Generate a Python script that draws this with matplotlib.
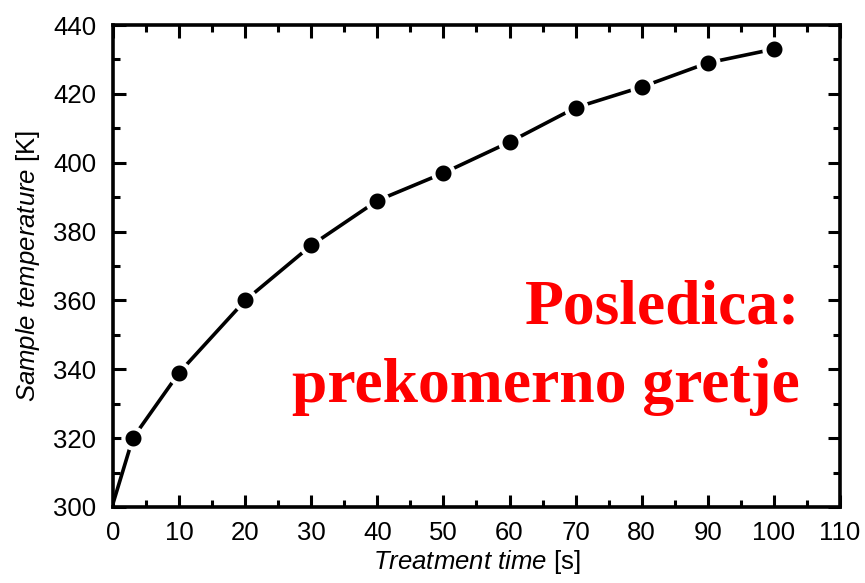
import numpy as np
import matplotlib.pyplot as plt
from matplotlib.ticker import MultipleLocator

plt.rcParams['font.family'] = 'Liberation Sans'
plt.rcParams['mathtext.fontset'] = 'custom'
plt.rcParams['mathtext.it'] = 'Liberation Sans:italic'
plt.rcParams['mathtext.rm'] = 'Liberation Sans'

# treatment time [s] and sample temperature [K]
time_s = [0, 3, 10, 20, 30, 40, 50, 60, 70, 80, 90, 100]
temp_k = [301, 320, 339, 360, 376, 389, 397, 406, 416, 422, 429, 433]

fig = plt.figure(figsize=(8.65, 5.83), dpi=100)
ax = fig.add_axes([113/865, 1-507/583, 727/865, 482/583])

ax.plot(time_s, temp_k, color='black', lw=2.6, marker='o', ms=14.5,
        mfc='black', mec='white', mew=3, markevery=slice(1, None), zorder=3)

ax.set_xlim(0, 110)
ax.set_ylim(300, 440)
ax.xaxis.set_major_locator(MultipleLocator(10))
ax.xaxis.set_minor_locator(MultipleLocator(5))
ax.yaxis.set_major_locator(MultipleLocator(20))
ax.yaxis.set_minor_locator(MultipleLocator(10))

for s in ax.spines.values():
    s.set_linewidth(2.6)
ax.tick_params(which='both', direction='in', top=True, right=True, width=2.2)
ax.tick_params(which='major', length=9, labelsize=18.5)
ax.tick_params(which='minor', length=5)
ax.tick_params(axis='x', pad=10)
ax.tick_params(axis='y', pad=12)

ax.set_xlabel(r'$\it{Treatment\ time}$ [s]', fontsize=18.5, labelpad=2)
ax.set_ylabel(r'$\it{Sample\ temperature}$ [K]', fontsize=18.5, labelpad=8)

fig.text(800/865, 1-323/583, 'Posledica:', color='red', fontsize=45.8,
         fontweight='bold', family='Liberation Serif', ha='right', va='baseline')
fig.text(800/865, 1-402/583, 'prekomerno gretje', color='red', fontsize=45.8,
         fontweight='bold', family='Liberation Serif', ha='right', va='baseline')

fig.savefig('out.png', dpi=100)
